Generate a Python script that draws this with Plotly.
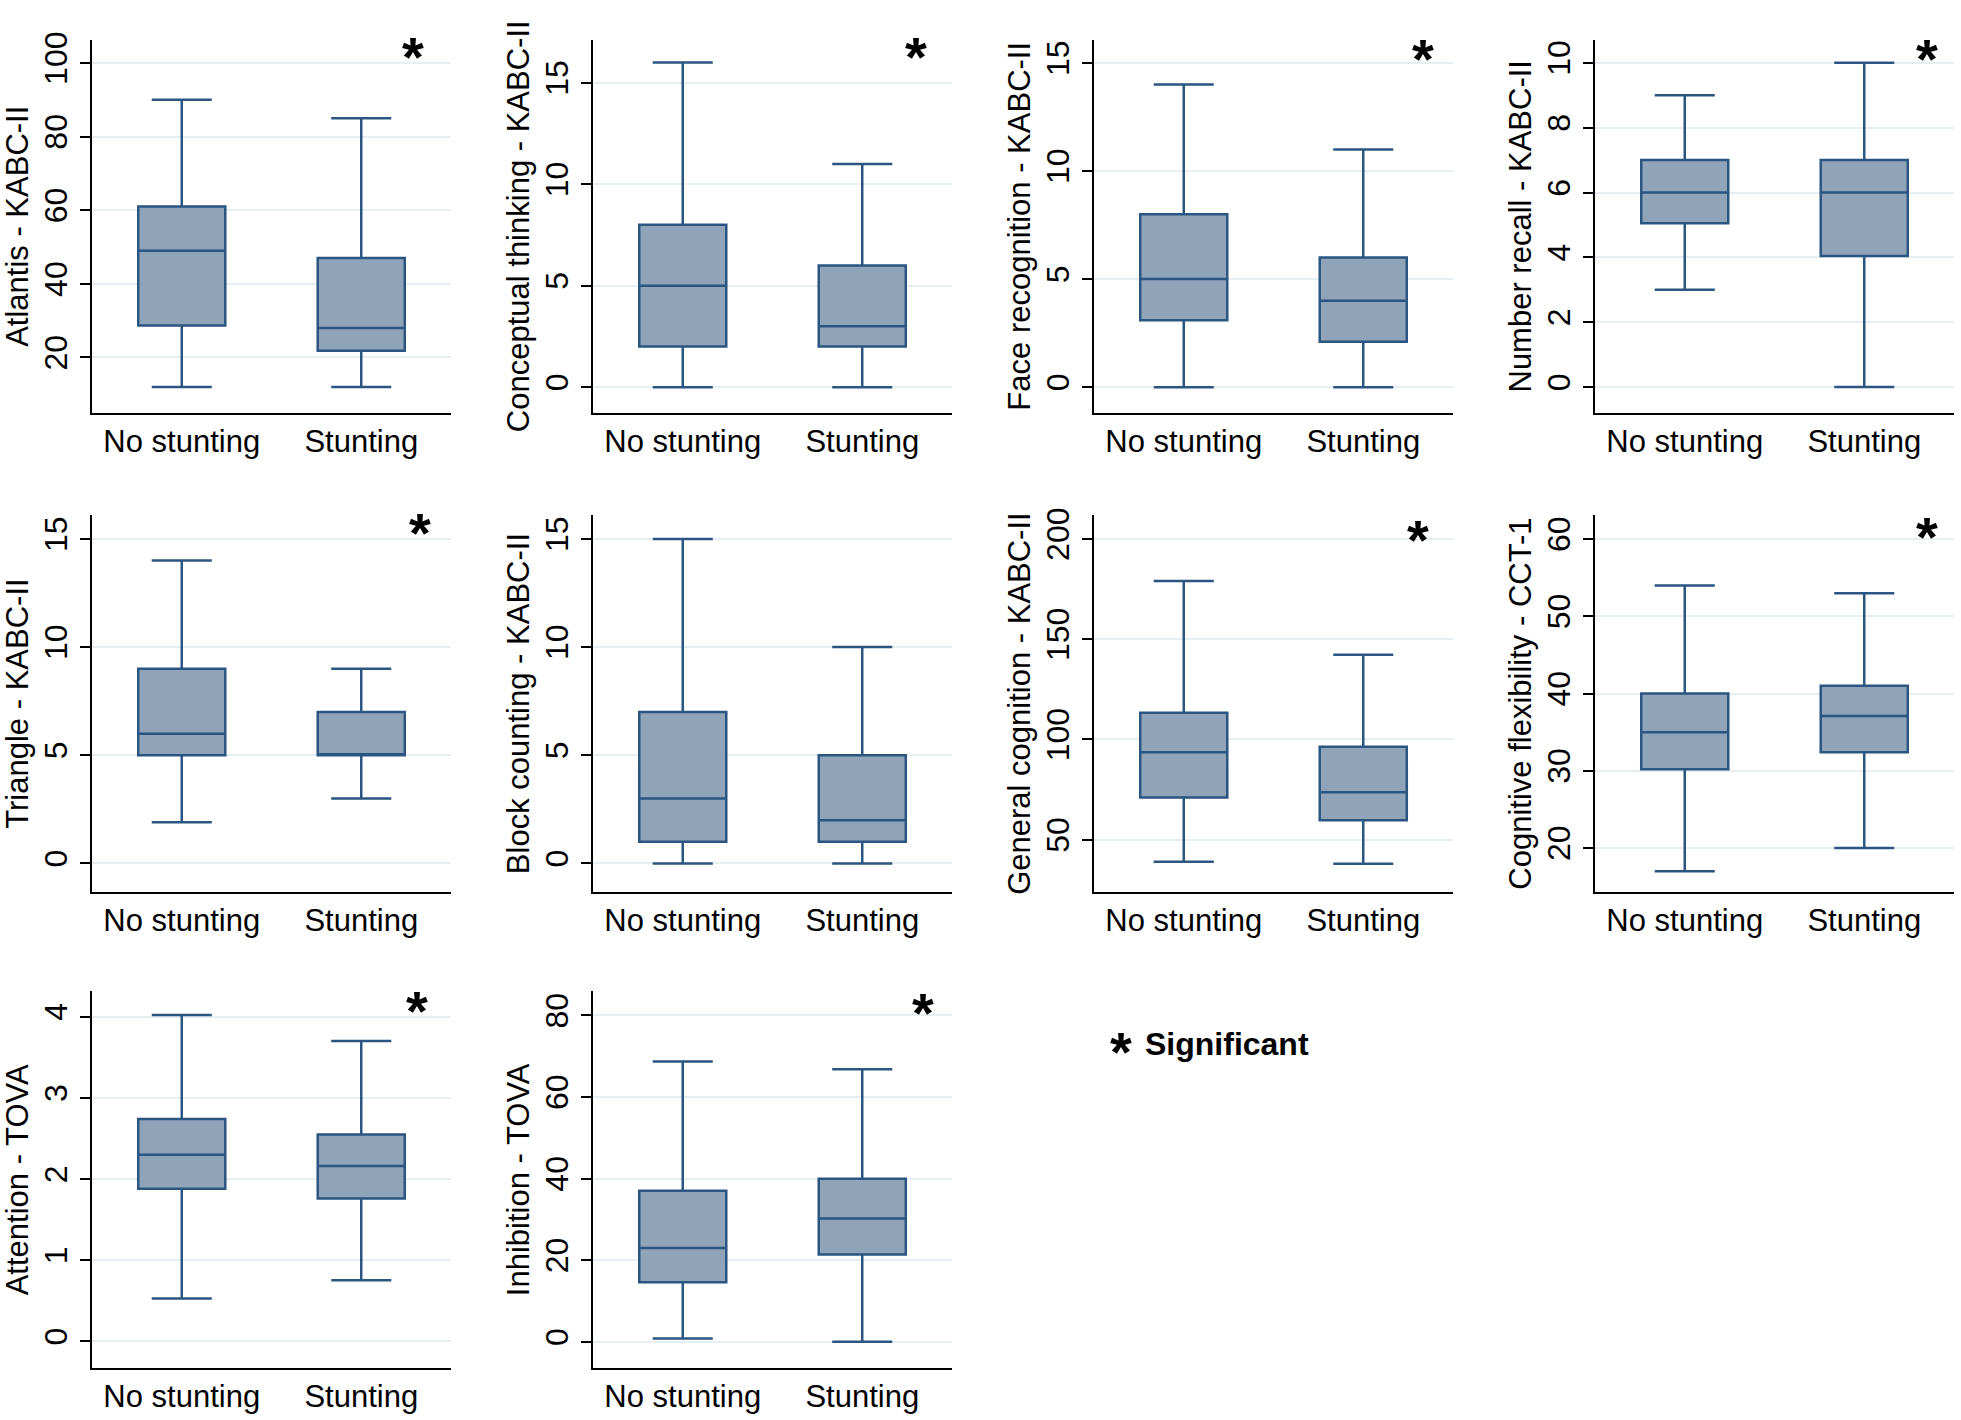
import plotly.graph_objects as go

# ---------------- data ----------------
categories = ["No stunting", "Stunting"]

panel_titles = [
    "Atlantis - KABC-II", "Conceptual thinking - KABC-II", "Face recognition - KABC-II",
    "Number recall - KABC-II", "Triangle - KABC-II", "Block counting - KABC-II",
    "General cognition - KABC-II", "Cognitive flexibility - CCT-1",
    "Attention - TOVA", "Inhibition - TOVA",
]

# No stunting group
ns_lower  = [12, 0, 0, 3.0, 1.9, 0, 39, 17, 0.53, 0.8]
ns_q1     = [28.7, 2, 3.1, 5.05, 5.0, 1, 71, 30.2, 1.88, 14.6]
ns_median = [49, 5, 5, 6, 6, 3, 93.6, 35, 2.30, 23]
ns_q3     = [61, 8, 8, 7, 9, 7, 113.3, 40, 2.74, 37]
ns_upper  = [90, 16, 14, 9, 14, 15, 179, 54, 4.02, 68.7]

# Stunting group
st_lower  = [12, 0, 0, 0, 3, 0, 38, 20, 0.755, 0]
st_q1     = [21.8, 2, 2.1, 4.04, 5.0, 1, 59.7, 32.4, 1.76, 21.4]
st_median = [28, 3, 4, 6, 5.0, 2, 73.6, 37.1, 2.16, 30.2]
st_q3     = [47, 6, 6, 7, 7, 5, 96.4, 41, 2.55, 40]
st_upper  = [85, 11, 11, 10, 9, 10, 142.2, 53, 3.70, 66.8]

significant = [True, True, True, True, True, False, True, True, True, True]

tick_values = [
    [20, 40, 60, 80, 100], [0, 5, 10, 15], [0, 5, 10, 15], [0, 2, 4, 6, 8, 10],
    [0, 5, 10, 15], [0, 5, 10, 15], [50, 100, 150, 200], [20, 30, 40, 50, 60],
    [0, 1, 2, 3, 4], [0, 20, 40, 60, 80],
]

legend_text = "Significant"

# ---------------- layout helpers ----------------
W, H = 1961, 1420
y_ranges = [
    [5.0, 106.3], [-1.26, 17.12], [-1.18, 16.07], [-0.79, 10.71],
    [-1.32, 16.1], [-1.32, 16.1], [23.9, 211.9], [14.3, 63.1],
    [-0.33, 4.31], [-6.5, 85.9],
]
col_left = [92, 593, 1094, 1595]
col_width = 359
row_top = [32, 510, 989]
row_height = [375, 379, 379]
star_pos = [
    (0.894, 0.955), (0.90, 0.955), (0.916, 0.95), (0.925, 0.95),
    (0.914, 0.953), (0.9, 0.95), (0.903, 0.934), (0.925, 0.942),
    (0.905, 0.95), (0.92, 0.945),
]

FONT = "Liberation Sans, Arial, Helvetica, sans-serif"
FILL = "#8fa3b9"
LINE = "#2b5682"
GRID = "#e6eef2"

fig = go.Figure()
layout = dict(
    width=W, height=H, margin=dict(l=0, r=0, t=0, b=0),
    paper_bgcolor="white", plot_bgcolor="white", showlegend=False,
    font=dict(family=FONT, color="black"),
)
annotations = []

for i in range(10):
    r, c = divmod(i, 4)
    n = i + 1
    xa = "x" if n == 1 else f"x{n}"
    ya = "y" if n == 1 else f"y{n}"
    fig.add_trace(go.Box(
        x=categories,
        lowerfence=[ns_lower[i], st_lower[i]],
        q1=[ns_q1[i], st_q1[i]],
        median=[ns_median[i], st_median[i]],
        q3=[ns_q3[i], st_q3[i]],
        upperfence=[ns_upper[i], st_upper[i]],
        boxpoints=False,
        fillcolor=FILL,
        line=dict(color=LINE, width=2.5),
        width=0.485,
        whiskerwidth=0.69,
        xaxis=xa, yaxis=ya,
    ))
    x0 = col_left[c] / W
    x1 = (col_left[c] + col_width) / W
    y1 = 1 - row_top[r] / H
    y0 = 1 - (row_top[r] + row_height[r]) / H
    layout[f"xaxis{n}"] = dict(
        domain=[x0, x1], anchor=ya, type="category", range=[-0.5, 1.5],
        showline=True, linecolor="black", linewidth=2, ticks="",
        showgrid=False, zeroline=False, tickfont=dict(size=31, family=FONT, color="black"),
        fixedrange=True,
    )
    layout[f"yaxis{n}"] = dict(
        domain=[y0, y1], anchor=xa, range=y_ranges[i], tickvals=tick_values[i],
        showline=True, linecolor="black", linewidth=2, ticks="outside",
        ticklen=10, tickwidth=2, tickcolor="black", tickangle=-90,
        showgrid=True, gridcolor=GRID, gridwidth=2, zeroline=False,
        tickfont=dict(size=32, family=FONT, color="black"),
        title=dict(text=panel_titles[i], font=dict(size=31, family=FONT, color="black"), standoff=0),
        fixedrange=True,
    )
    if significant[i]:
        sx, sy = star_pos[i]
        annotations.append(dict(
            text="<b>*</b>", xref=f"{xa} domain", yref=f"{ya} domain",
            x=sx, y=sy, xanchor="center", yanchor="middle", showarrow=False,
            font=dict(size=56, family=FONT, color="black"),
        ))

# legend-like note
annotations.append(dict(
    text="<b>*</b>", xref="paper", yref="paper", x=1121 / W, y=1 - 1045 / H,
    xanchor="center", yanchor="middle", showarrow=False,
    font=dict(size=56, family=FONT, color="black"), yshift=-4,
))
annotations.append(dict(
    text="<b>" + legend_text + "</b>", xref="paper", yref="paper", x=1143 / W, y=1 - 1045 / H,
    xanchor="left", yanchor="middle", showarrow=False,
    font=dict(size=32, family=FONT, color="black"), yshift=3,
))

layout["annotations"] = annotations
fig.update_layout(**layout)
fig.write_html(
    "out.html",
    config={"displayModeBar": False},
    post_script="document.body.style.margin='0px';document.body.style.overflow='hidden';",
)
